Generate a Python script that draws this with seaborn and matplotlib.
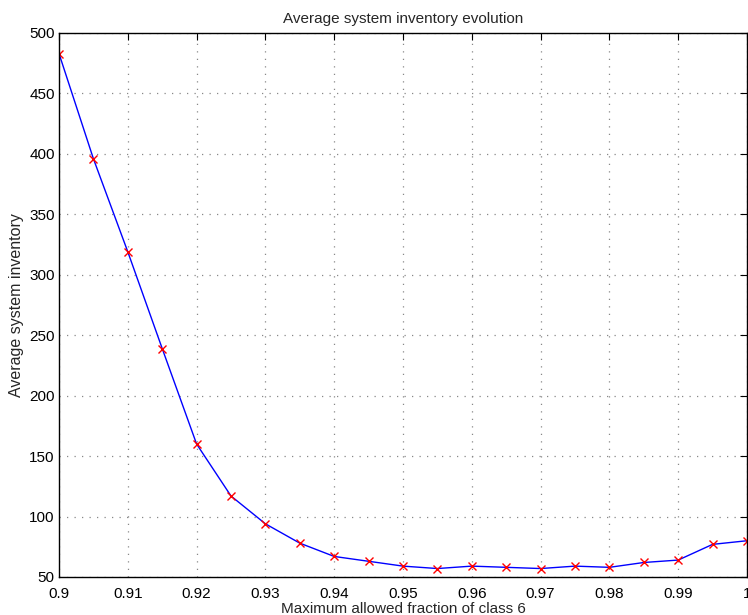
import numpy as np
import pandas as pd
import matplotlib
matplotlib.use("Agg")
import matplotlib.pyplot as plt
import seaborn as sns

# Maximum allowed fraction of class 6 and the resulting average inventory
fraction = [0.900, 0.905, 0.910, 0.915, 0.920, 0.925, 0.930, 0.935, 0.940,
            0.945, 0.950, 0.955, 0.960, 0.965, 0.970, 0.975, 0.980, 0.985,
            0.990, 0.995, 1.000]
inventory = [483, 396, 319, 239, 160, 117, 94, 78, 67,
             63, 59, 57, 59, 58, 57, 59, 58, 62,
             64, 77, 80]
x_ticks = [0.9, 0.91, 0.92, 0.93, 0.94, 0.95, 0.96, 0.97, 0.98, 0.99, 1.0]
x_tick_labels = ["0.9", "0.91", "0.92", "0.93", "0.94", "0.95", "0.96",
                 "0.97", "0.98", "0.99", "1"]
y_ticks = [50, 100, 150, 200, 250, 300, 350, 400, 450, 500]

df = pd.DataFrame({"fraction": fraction, "inventory": inventory})

sns.set_theme(style="white")
plt.rcParams["font.family"] = ["Liberation Sans", "DejaVu Sans"]

fig = plt.figure(figsize=(7.48, 6.15), dpi=100)
ax = fig.add_axes([59 / 748, 38 / 615, (747 - 59) / 748, (577 - 33) / 615])

sns.lineplot(data=df, x="fraction", y="inventory", ax=ax, color="#0000ff",
             linewidth=1.0, marker="x", markersize=6, markeredgecolor="#ff0000",
             markerfacecolor="#ff0000", markeredgewidth=1.0, errorbar=None)

ax.set_xlim(0.9, 1.0)
ax.set_ylim(50, 500)
ax.set_xticks(x_ticks)
ax.set_xticklabels(x_tick_labels)
ax.set_yticks(y_ticks)

ax.grid(True, linestyle=(0, (1, 5)), color="#888888", linewidth=0.9)
ax.tick_params(direction="in", length=5, width=0.8, colors="black",
               labelsize=11, top=True, right=True, pad=3)
ax.tick_params(axis="x", pad=7)
for side in ax.spines.values():
    side.set_visible(True)
    side.set_color("black")
    side.set_linewidth(1.0)

ax.set_title("Average system inventory evolution", fontsize=11, pad=7)
ax.set_xlabel("Maximum allowed fraction of class 6", fontsize=11, labelpad=1)
ax.set_ylabel("Average system inventory", fontsize=11.5, labelpad=4)

fig.savefig("out.png", dpi=100, facecolor="white")
